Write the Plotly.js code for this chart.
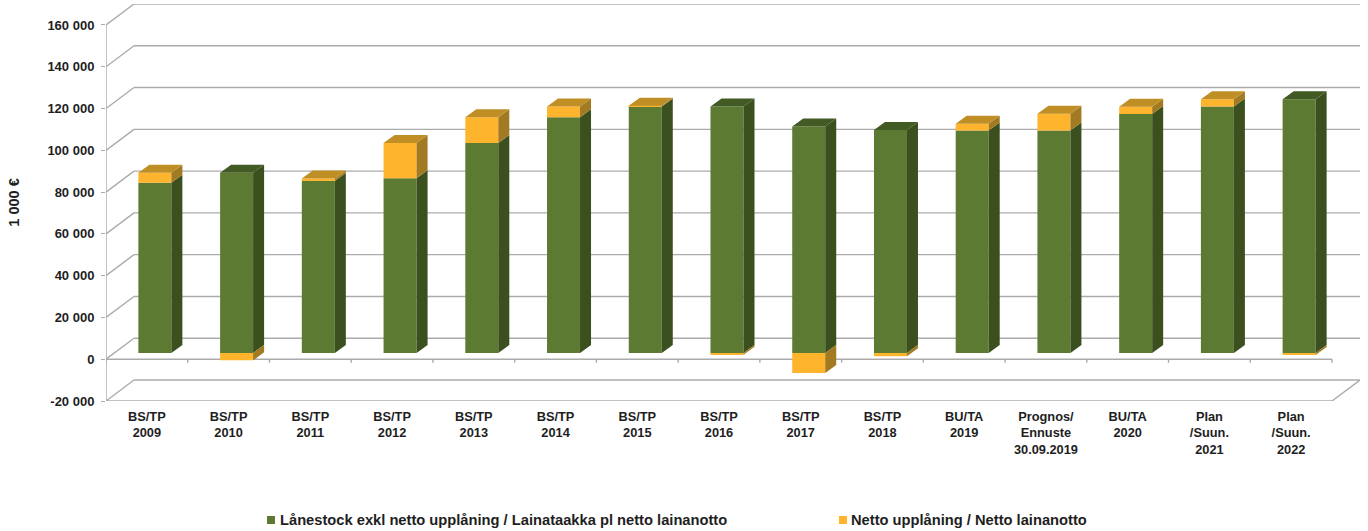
<!DOCTYPE html>
<html>
<head>
<meta charset="utf-8">
<script src="https://cdn.plot.ly/plotly-3.0.1.min.js"></script>
<style>html,body{margin:0;padding:0;background:#fff}</style>
</head>
<body>
<div id="chart" style="width:1368px;height:531px"></div>
<script>
const categories = ["BS/TP<br>2009","BS/TP<br>2010","BS/TP<br>2011","BS/TP<br>2012","BS/TP<br>2013","BS/TP<br>2014","BS/TP<br>2015","BS/TP<br>2016","BS/TP<br>2017","BS/TP<br>2018","BU/TA<br>2019","Prognos/<br>Ennuste<br>30.09.2019","BU/TA<br>2020","Plan<br>/Suun.<br>2021","Plan<br>/Suun.<br>2022"];
const loanStock = [81500,86300,82400,83700,100500,112900,118000,118000,108400,106800,106500,106500,114400,118000,121500];
const netBorrowing = [4800,-3500,1200,16800,12400,5100,400,-800,-9600,-1600,3200,8000,3500,3500,-1000];
const yTicks = [-20000,0,20000,40000,60000,80000,100000,120000,140000,160000];
const yTickLabels = ["-20 000","0","20 000","40 000","60 000","80 000","100 000","120 000","140 000","160 000"];
const seriesNames = ["Lånestock exkl netto upplåning / Lainataakka pl netto lainanotto","Netto upplåning / Netto lainanotto"];

// Plot frame and pseudo-3D depth (pixels converted to axis units)
const W = 1368, H = 531, L = 106, R = 8, T = 4, B = 130;
const plotW = W - L - R, plotH = H - T - B;
const wallDX = 28, wallDY = 21;
const slotPx = (1332 - L) / categories.length;
const xMax = categories.length - 0.5 + wallDX / slotPx;
const unitsPerPx = 20000 / 41.8;
const yMax = 160000 + wallDY * unitsPerPx;
const xUnit = px => px / slotPx, yUnit = px => px * unitsPerPx;

const barWidth = xUnit(33), barOffset = xUnit(-8.5);
const lift = yUnit(6.2);
const depthX = xUnit(11), depthY = yUnit(8);

const C = {
  green: "#5C7A32", greenSide: "#3B4F1F", greenTop: "#425A24",
  amber: "#FFB42D", amberSide: "#A17A22", amberTop: "#BF8F26",
  grid: "#ABABAB", text: "#1E1E1E"
};
const fontBase = {family: '"Liberation Sans", Arial, sans-serif', weight: 700, color: C.text};

// Faces of the boxes, from the data
const face = {gs: [[],[]], gt: [[],[]], as: [[],[]], at: [[],[]]};
function sideFace(f, i, lo, hi) {
  const x = i + barOffset + barWidth;
  f[0].push(x, x + depthX, x + depthX, x, null);
  f[1].push(lo, lo + depthY, hi + depthY, hi, null);
}
function topFace(f, i, v) {
  const x = i + barOffset;
  f[0].push(x, x + barWidth, x + barWidth + depthX, x + depthX, null);
  f[1].push(v, v, v + depthY, v + depthY, null);
}
const amberBase = [];
loanStock.forEach((g, i) => {
  const a = netBorrowing[i], gTop = lift + g;
  sideFace(face.gs, i, lift, gTop);
  if (a > 0) {
    amberBase.push(gTop);
    sideFace(face.as, i, gTop, gTop + a);
    topFace(face.at, i, gTop + a);
  } else {
    amberBase.push(lift);
    sideFace(face.as, i, lift + a, lift);
    topFace(face.gt, i, gTop);
  }
});
const idx = categories.map((_, i) => i);
const poly = (f, color) => ({type: "scatter", mode: "none", x: f[0], y: f[1], fill: "toself", fillcolor: color, hoverinfo: "skip", showlegend: false});

const traces = [
  {type: "bar", name: seriesNames[0], x: idx, y: loanStock, base: idx.map(() => lift), width: barWidth, offset: barOffset, marker: {color: C.green}, showlegend: false},
  {type: "bar", name: seriesNames[1], x: idx, y: netBorrowing, base: amberBase, width: barWidth, offset: barOffset, marker: {color: C.amber}, showlegend: false},
  poly(face.gs, C.greenSide), poly(face.gt, C.greenTop), poly(face.as, C.amberSide), poly(face.at, C.amberTop)
];

// Walls, floor and axis lines
const gridLine = (x0, y0, x1, y1) => ({type: "line", layer: "below", xref: "x", yref: "y", x0, y0, x1, y1, line: {color: C.grid, width: 1.4}});
const xL = -0.5, xF = categories.length - 0.5, wx = xUnit(wallDX), wy = yUnit(wallDY);
const shapes = [];
yTicks.forEach(v => {
  shapes.push(gridLine(xL, v, xL + wx, v + wy));
  shapes.push(gridLine(xL + wx, v + wy, xF + wx, v + wy));
});
shapes.push(gridLine(xL, yTicks[0], xL, yTicks[yTicks.length - 1]));
shapes.push(gridLine(xL, yTicks[0], xF, yTicks[0]));
shapes.push(gridLine(xF, yTicks[0], xF + wx, yTicks[0] + wy));
shapes.push(gridLine(xL, 0, xF, 0));
for (let i = 0; i <= categories.length; i++) shapes.push(gridLine(i - 0.5, 0, i - 0.5, -yUnit(3.5)));

// Legend row
const px = v => (v - L) / plotW, py = v => (H - B - v) / plotH;
const legendItems = [{sq: 267, tx: 279, color: C.green}, {sq: 839, tx: 850, color: C.amber}];
const annotations = [];
legendItems.forEach((it, i) => {
  shapes.push({type: "rect", xref: "paper", yref: "paper", x0: px(it.sq), x1: px(it.sq + 8), y0: py(524), y1: py(516), fillcolor: it.color, line: {width: 0}});
  annotations.push({xref: "paper", yref: "paper", x: px(it.tx), y: py(520), xanchor: "left", yanchor: "middle", showarrow: false, borderpad: 0, text: seriesNames[i], font: {...fontBase, size: 14.7}});
});

const layout = {
  width: W, height: H,
  margin: {l: L, r: R, t: T, b: B, pad: 0},
  paper_bgcolor: "#fff", plot_bgcolor: "rgba(0,0,0,0)",
  barmode: "overlay", showlegend: false, hovermode: "closest",
  xaxis: {
    range: [xL, xMax], tickmode: "array", tickvals: idx, ticktext: categories,
    showgrid: false, zeroline: false, showline: false, ticks: "", ticklabelstandoff: 6,
    tickangle: 0, tickfont: {...fontBase, size: 12.8}, fixedrange: true
  },
  yaxis: {
    range: [yTicks[0], yMax], tickmode: "array", tickvals: yTicks, ticktext: yTickLabels,
    showgrid: false, zeroline: false, showline: false, ticks: "outside", ticklen: 4, tickcolor: C.grid, tickwidth: 1.2,
    ticklabelstandoff: 4,
    tickfont: {...fontBase, size: 13}, fixedrange: true,
    title: {text: "1 000 €", font: {...fontBase, size: 14.5}, standoff: 24}
  },
  shapes, annotations
};
Plotly.newPlot("chart", traces, layout, {displayModeBar: false, responsive: false});
</script>
</body>
</html>
